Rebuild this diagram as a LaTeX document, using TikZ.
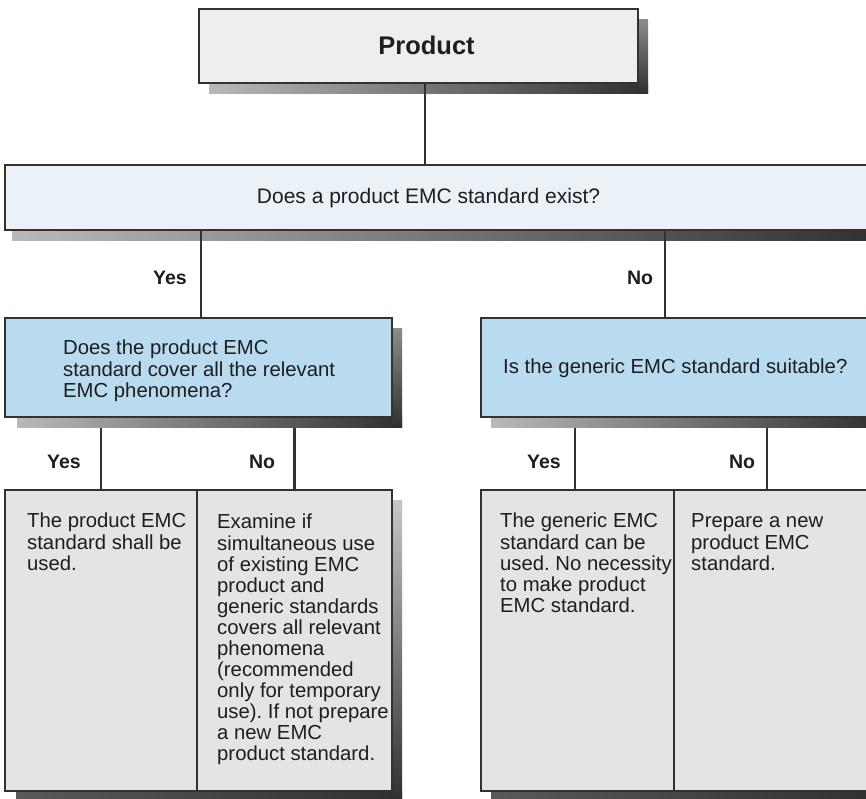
\documentclass[tikz,border=0pt]{standalone}
\usepackage{fontspec}
\setmainfont{Liberation Sans}
\frenchspacing
\definecolor{linec}{RGB}{50,50,50}
\definecolor{txtc}{RGB}{30,30,30}
\definecolor{prodfill}{RGB}{238,238,238}
\definecolor{barfill}{RGB}{234,241,247}
\definecolor{bluefill}{RGB}{185,219,240}
\definecolor{cellfill}{RGB}{228,228,228}
\definecolor{shl}{RGB}{185,185,185}
\definecolor{shm}{RGB}{140,140,140}
\definecolor{shd}{RGB}{48,48,48}
\begin{document}
\begin{tikzpicture}[x=1pt,y=-1pt,
  box/.style={draw=linec, line width=1.4pt, inner sep=0pt},
  conn/.style={draw=linec, line width=2.6pt},
  lbl/.style={font=\fontsize{19.5}{22}\selectfont\bfseries, text=txtc, inner sep=0pt},
  body/.style={font=\fontsize{20.3}{21}\selectfont, text=txtc, align=left, inner sep=0pt, anchor=north west},
]
\clip (0,0) rectangle (866,798);
\fill[white] (0,0) rectangle (866,798);

% ---------- shadows ----------
\shade[left color=shl, right color=shd] (209,83) rectangle (648,93);
\shade[top color=shm, bottom color=shd] (638,19) rectangle (648,93);
\shade[left color=shl, right color=shd] (12,230) rectangle (880,240);
\shade[left color=shl, right color=shd] (17,417) rectangle (402,427);
\shade[top color=shm, bottom color=shd] (392,328) rectangle (402,427);
\shade[left color=shl, right color=shd] (491,417) rectangle (880,427);
\shade[left color=shd!80!white, right color=shd] (16,791) rectangle (402,798);
\shade[top color=shl!80!white, bottom color=shd] (392,500) rectangle (402,798);
\shade[left color=shd!80!white, right color=shd] (491,791) rectangle (880,798);

% ---------- boxes ----------
\node[box, fill=prodfill, minimum width=439, minimum height=74] (prod) at (418.5,46) {};
\node[box, fill=barfill, minimum width=875, minimum height=65] (bar) at (442.5,197.5) {};
\node[box, fill=bluefill, minimum width=387, minimum height=99] (qL) at (198.5,367.5) {};
\node[box, fill=bluefill, minimum width=399, minimum height=99] (qR) at (680.5,367.5) {};
\node[box, fill=cellfill, minimum width=192, minimum height=301] (c1) at (101,640.5) {};
\node[box, fill=cellfill, minimum width=195, minimum height=301] (c2) at (294.5,640.5) {};
\node[box, fill=cellfill, minimum width=193, minimum height=301] (c3) at (577.5,640.5) {};
\node[box, fill=cellfill, minimum width=206, minimum height=301] (c4) at (777,640.5) {};

% ---------- connectors ----------
\coordinate (x0) at (425,0);
\coordinate (x1) at (201,0);
\coordinate (x2) at (665,0);
\coordinate (x3) at (575,0);
\coordinate (x4) at (767,0);
\draw[conn] (prod.south -| x0) -- (bar.north -| x0);
\draw[conn] (bar.south -| x1) -- (qL.north -| x1);
\draw[conn] (bar.south -| x2) -- (qR.north -| x2);
\draw[conn] ([yshift=-10]qL.south -| c1) -- (c1.north);
\draw[conn] ([yshift=-10]qL.south -| c2) -- (c2.north);
\draw[conn] ([yshift=-10]qR.south -| x3) -- (c3.north -| x3);
\draw[conn] ([yshift=-10]qR.south -| x4) -- (c4.north -| x4);

% ---------- texts ----------
\node[font=\fontsize{25.5}{28}\selectfont\bfseries, text=txtc, inner sep=0pt] (ptext) at (426.5,45) {Product};
\node[font=\fontsize{21}{24}\selectfont, text=txtc, inner sep=0pt] (btext) at (428.5,198) {Does a product EMC standard exist?};
\node[body] (qLt) at (63,339.5) {\strut Does the product EMC\\standard cover all the relevant\\EMC phenomena?};
\node[font=\fontsize{20.3}{23}\selectfont, text=txtc, inner sep=0pt, anchor=west] (qRt) at (503,368) {Is the generic EMC standard suitable?};

\node[lbl] (y1) at (170,278) {Yes};
\node[lbl] (n1) at (640,278) {No};
\node[lbl] (y2) at (64,462) {Yes};
\node[lbl] (n2) at (262,462) {No};
\node[lbl] (y3) at (544,462) {Yes};
\node[lbl] (n3) at (742,462) {No};

\node[body] (t1) at (27,513) {\strut The product EMC\\standard shall be\\used.};
\node[body] (t2) at (217,514) {\strut Examine if\\simultaneous use\\of existing EMC\\product and\\generic standards\\covers all relevant\\phenomena\\(recommended\\only for temporary\\use). If not prepare\\a new EMC\\product standard.};
\node[body] (t3) at (500,513) {\strut The generic EMC\\standard can be\\used. No necessity\\to make product\\EMC standard.};
\node[body] (t4) at (691,513) {\strut Prepare a new\\product EMC\\standard.};
\end{tikzpicture}
\end{document}
